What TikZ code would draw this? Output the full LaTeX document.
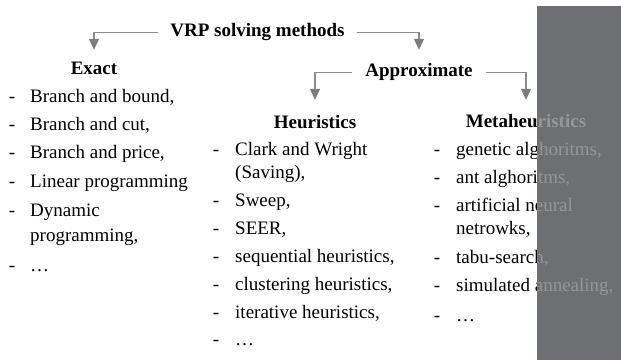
\documentclass[tikz,border=0pt]{standalone}
\usepackage{fontspec}
\setmainfont{Liberation Serif}
\usetikzlibrary{arrows.meta}
\definecolor{conncol}{RGB}{140,140,140}
\definecolor{headcol}{RGB}{125,125,125}
\definecolor{panelcol}{RGB}{110,111,115}
\definecolor{paneltext}{RGB}{150,150,152}
\newcommand\listrow[5]{%
  \node[dashmark] (#1d) at (#2,#4) {-};
  \node[itemtext] (#1) at (#3,#4) {#5};}
\newcommand\metacol[1]{%
  \node[head, inner ysep=15pt] (meta#1) at (526,233) {Metaheuristics};
  \listrow{m1#1}{437}{456}{205}{genetic alghoritms,}
  \listrow{m2#1}{437}{456}{177}{ant alghoritms,}
  \listrow{m3#1}{437}{456}{149}{artificial neural}
  \node[itemtext] (m3b#1) at (456,126) {netrowks,};
  \listrow{m4#1}{437}{456}{97}{tabu-search,}
  \listrow{m5#1}{437}{456}{69}{simulated annealing,}
  \listrow{m6#1}{437}{456}{39}{…}}
\begin{document}
\begin{tikzpicture}[x=1pt,y=1pt,
  every node/.style={font=\fontsize{19}{24}\selectfont, inner sep=0pt, text=black},
  head/.style={font=\fontsize{19}{24}\selectfont\bfseries, anchor=base, text height=12pt, text depth=5pt},
  dashmark/.style={anchor=base},
  itemtext/.style={anchor=base west},
  conn/.style={draw=conncol, line width=1.3pt, -{Triangle[width=10pt,length=11pt,color=headcol,fill=headcol]}}
]
\useasboundingbox (0,0) rectangle (621,360);

% headings
\node[head, inner xsep=12pt] (title) at (257.5,324) {VRP solving methods};
\node[head, inner ysep=12pt] (exact) at (94,286) {Exact};
\node[head, inner xsep=13pt, inner ysep=14pt] (approx) at (419,284) {Approximate};
\node[head, inner ysep=16pt] (heur) at (315,232) {Heuristics};

% exact list
\listrow{e1}{12}{30}{258}{Branch and bound,}
\listrow{e2}{12}{30}{230}{Branch and cut,}
\listrow{e3}{12}{30}{202}{Branch and price,}
\listrow{e4}{12}{30}{173}{Linear programming}
\listrow{e5}{12}{30}{144}{Dynamic}
\node[itemtext] (e5b) at (30,119) {programming,};
\listrow{e6}{12}{30}{89}{…}

% heuristics list
\listrow{h1}{216}{235}{205}{Clark and Wright}
\node[itemtext] (h1b) at (235,182) {(Saving),};
\listrow{h2}{216}{235}{154}{Sweep,}
\listrow{h3}{216}{235}{126}{SEER,}
\listrow{h4}{216}{235}{98}{sequential heuristics,}
\listrow{h5}{216}{235}{70}{clustering heuristics,}
\listrow{h6}{216}{235}{42}{iterative heuristics,}
\listrow{h7}{216}{235}{15}{…}

% metaheuristics column
\metacol{}

% connectors
\draw[conn] (title.west) -| (exact.north);
\draw[conn] (title.east) -| (approx.north);
\draw[conn] (approx.west) -| (heur.north);
\draw[conn] (approx.east) -| (meta.north);

% grey panel over the right edge; the text under it shows through lighter
\fill[panelcol] (537,0) rectangle (621,354);
\begin{scope}[every node/.append style={text=paneltext}]
  \clip (537,0) rectangle (621,354);
  \metacol{g}
\end{scope}
\end{tikzpicture}
\end{document}
